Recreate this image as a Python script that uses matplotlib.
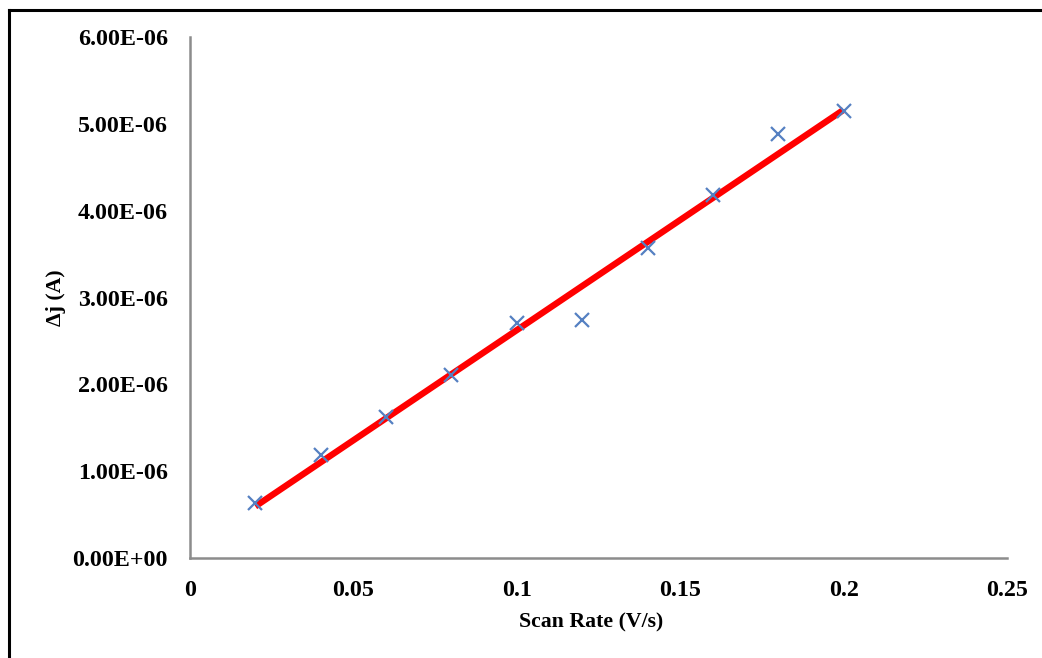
import numpy as np
import matplotlib
matplotlib.use("Agg")
import matplotlib.pyplot as plt
from matplotlib.lines import Line2D
from matplotlib.ticker import FixedLocator

# scan rate (V/s) and current difference (A)
scan_rate = [0.02, 0.04, 0.06, 0.08, 0.10, 0.12, 0.14, 0.16, 0.18, 0.20]
delta_j = [0.63e-6, 1.19e-6, 1.62e-6, 2.11e-6, 2.71e-6,
           2.74e-6, 3.57e-6, 4.18e-6, 4.88e-6, 5.15e-6]

x_ticks = [0, 0.05, 0.1, 0.15, 0.2, 0.25]
x_tick_labels = ["0", "0.05", "0.1", "0.15", "0.2", "0.25"]
y_ticks = [0, 1e-6, 2e-6, 3e-6, 4e-6, 5e-6, 6e-6]
y_tick_labels = ["0.00E+00", "1.00E-06", "2.00E-06", "3.00E-06",
                 "4.00E-06", "5.00E-06", "6.00E-06"]

plt.rcParams['font.family'] = ['Liberation Serif', 'DejaVu Serif']
plt.rcParams['font.weight'] = 'bold'

fig = plt.figure(figsize=(10.42, 6.58), dpi=100)
ax = fig.add_axes([190 / 1042, 1 - 558 / 658, (1007 - 190) / 1042, (558 - 37) / 658])

# linear trend line over the data range
slope, icpt = np.polyfit(scan_rate, delta_j, 1)
xfit = np.array([min(scan_rate), max(scan_rate)])
ax.plot(xfit, slope * xfit + icpt, color='#ff0000', lw=4.6, solid_capstyle='butt', zorder=2)

ax.plot(scan_rate, delta_j, linestyle='none', marker='x', ms=10.5, mew=1.6,
        color='#5580c2', zorder=3)

ax.set_xlim(0, 0.25)
ax.set_ylim(0, 6e-6)
ax.xaxis.set_major_locator(FixedLocator(x_ticks))
ax.set_xticklabels(x_tick_labels)
ax.yaxis.set_major_locator(FixedLocator(y_ticks))
ax.set_yticklabels(y_tick_labels)
ax.tick_params(axis='both', length=0, labelsize=17.3)
ax.tick_params(axis='x', pad=16)
ax.tick_params(axis='y', pad=16)

for s in ['top', 'right']:
    ax.spines[s].set_visible(False)
for s in ['left', 'bottom']:
    ax.spines[s].set_color('#8c8c8c')
    ax.spines[s].set_linewidth(1.8)

ax.set_xlabel('Scan Rate (V/s)', fontsize=15.7, fontweight='bold')
ax.set_ylabel('\u0394j (A)', fontsize=15.7, fontweight='bold')
ax.xaxis.set_label_coords(0.5 - 7 / 817, -54 / 521)
ax.yaxis.set_label_coords(-124 / 817, 0.5)

# outer frame (only left and top edges are visible in the crop)
fig.add_artist(Line2D([9 / 1042, 9 / 1042], [0, 1 - 10 / 658], transform=fig.transFigure,
                      color='black', lw=2.2))
fig.add_artist(Line2D([9 / 1042, 1], [1 - 10 / 658, 1 - 10 / 658], transform=fig.transFigure,
                      color='black', lw=2.2))

fig.savefig('out.png', dpi=100)
